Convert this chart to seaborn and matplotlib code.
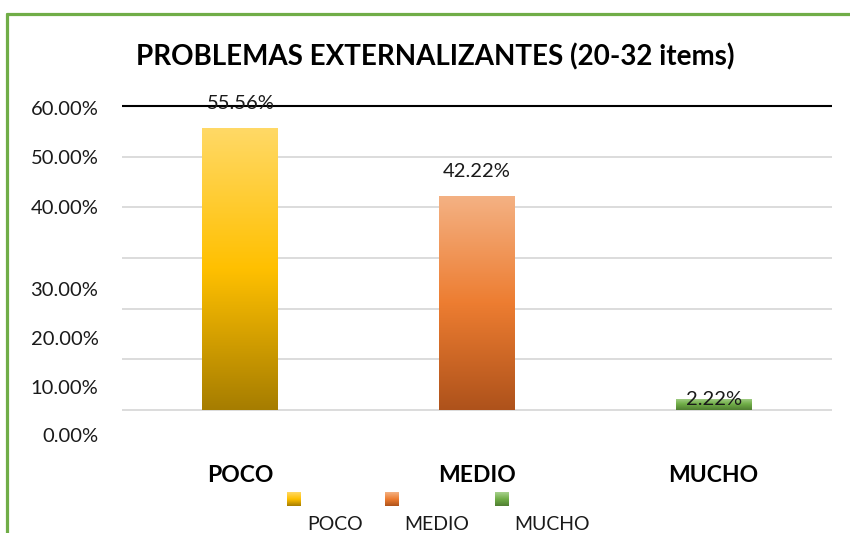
import numpy as np
import pandas as pd
import matplotlib
matplotlib.use("Agg")
import matplotlib.pyplot as plt
from matplotlib.colors import LinearSegmentedColormap
from matplotlib.lines import Line2D
import seaborn as sns

# ---- data ----
categories = ["POCO", "MEDIO", "MUCHO"]
values = [55.56, 42.22, 2.22]
value_labels = ["55.56%", "42.22%", "2.22%"]
ytick_labels = ["0.00%", "10.00%", "20.00%", "30.00%", "40.00%", "50.00%", "60.00%"]
grid_values = [0, 10, 20, 30, 40, 50]
title = "PROBLEMAS EXTERNALIZANTES (20-32 items)"

# ---- style ----
sns.set_theme(style="white")
plt.rcParams["font.family"] = ["Lato", "DejaVu Sans"]

gradients = [
    ["#A67D00", "#FFC000", "#FFD966"],
    ["#AE521B", "#ED7D31", "#F4B183"],
    ["#507E32", "#70AD47", "#A9D18E"],
]
mid_colors = [g[1] for g in gradients]

W, H = 850, 533
fig = plt.figure(figsize=(W / 100, H / 100), dpi=100)

y_lo, y_hi = -6, 61
px_per_unit = 5.067
ax_bottom_px = 410 + (-y_lo) * px_per_unit
ax_top_px = 106 - (y_hi - 60) * px_per_unit
ax = fig.add_axes([122 / W, 1 - ax_bottom_px / H, 710 / W, (ax_bottom_px - ax_top_px) / H])

df = pd.DataFrame({"cat": categories, "val": values})
sns.barplot(data=df, x="cat", y="val", hue="cat", palette=mid_colors,
            width=0.32, legend=False, ax=ax, zorder=3)

ax.set_xlim(-0.5, 2.5)
ax.set_ylim(y_lo, y_hi)

# gridlines and top line
ax.hlines(grid_values, -0.5, 2.5, colors="#D9D9D9", linewidth=1.3, zorder=1)
ax.hlines([60], -0.5, 2.5, colors="black", linewidth=1.5, zorder=4)

# gradient fill for bars
grad = np.linspace(0, 1, 256).reshape(-1, 1)
for patch, cols in zip(ax.patches, gradients):
    cmap = LinearSegmentedColormap.from_list("g", cols)
    x0, y0 = patch.get_x(), patch.get_y()
    w, h = patch.get_width(), patch.get_height()
    im = ax.imshow(grad, cmap=cmap, aspect="auto", origin="lower",
                   extent=[x0, x0 + w, y0, y0 + h], zorder=3)
    im.set_clip_path(patch)
    patch.set_facecolor("none")
    patch.set_edgecolor("none")
ax.set_xlim(-0.5, 2.5)
ax.set_ylim(y_lo, y_hi)

# value labels
offsets = [5.0, 4.9, -0.2]
for i, (v, lab, off) in enumerate(zip(values, value_labels, offsets)):
    ax.text(i, v + off, lab, ha="center", va="center", fontsize=14.5,
            color="#1a1a1a", zorder=5)

# y tick labels (placed as in the reference)
ytick_pos = [-4.94, 4.61, 14.27, 23.9, 40.02, 49.86, 59.6]
ax.set_yticks(ytick_pos, ytick_labels)
ax.tick_params(axis="y", length=0, pad=17, labelsize=14.5, labelcolor="#1a1a1a")
ax.tick_params(axis="x", length=0, pad=18, labelsize=16.5)
for t in ax.get_xticklabels():
    t.set_fontweight("bold")
    t.set_color("black")
ax.set_xlabel("")
ax.set_ylabel("")
for s in ax.spines.values():
    s.set_visible(False)

# title
fig.text(435 / W, 1 - 57 / H, title, ha="center", va="center",
         fontsize=20, fontweight="bold", color="black")

# legend (squares above-left of labels)
leg_sq_x = [287, 385, 495]
leg_txt_x = [307, 404, 514]
for cols, sx, tx, lab in zip(gradients, leg_sq_x, leg_txt_x, categories):
    lax = fig.add_axes([sx / W, 1 - 506 / H, 14 / W, 14 / H])
    lax.imshow(grad, cmap=LinearSegmentedColormap.from_list("g", cols),
               aspect="auto", origin="lower")
    lax.axis("off")
    fig.text(tx / W, 1 - 530 / H, lab, ha="left", va="baseline", fontsize=14,
             color="#1a1a1a")

# green frame
fig.add_artist(Line2D([6.5 / W, 1.0], [1 - 14 / H, 1 - 14 / H],
                      transform=fig.transFigure, color="#70AD47", linewidth=2.3))
fig.add_artist(Line2D([6.5 / W, 6.5 / W], [1 - 14 / H, 0],
                      transform=fig.transFigure, color="#70AD47", linewidth=2.3))

fig.savefig("out.png", dpi=100)
